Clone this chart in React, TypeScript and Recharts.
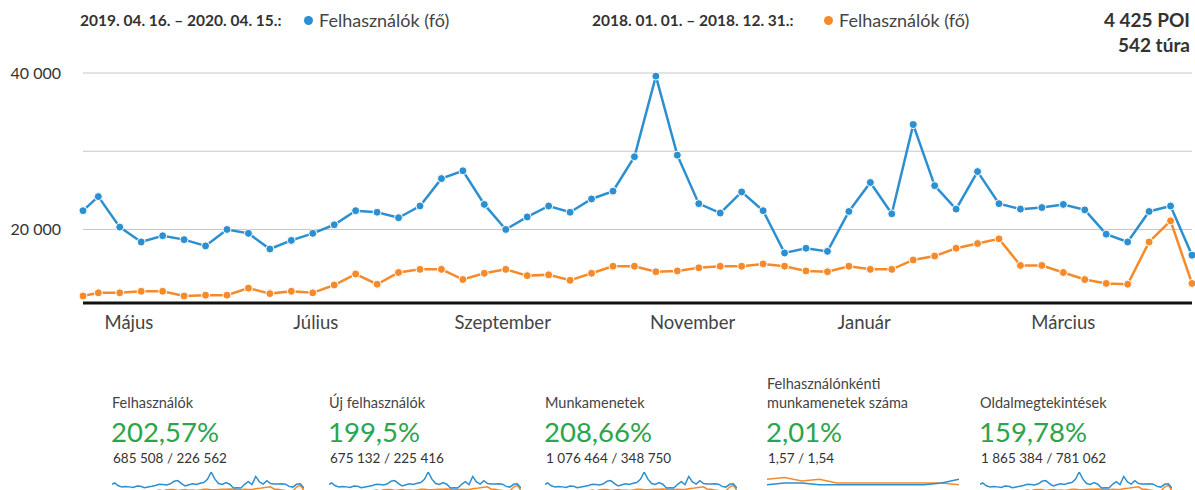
import { CartesianGrid, Line, LineChart, XAxis, YAxis } from 'recharts';

// week start dates (the first week is partial, it starts on a Tuesday)
const weekStarts = [
  '2019-04-16', '2019-04-21', '2019-04-28', '2019-05-05', '2019-05-12', '2019-05-19', '2019-05-26',
  '2019-06-02', '2019-06-09', '2019-06-16', '2019-06-23', '2019-06-30', '2019-07-07', '2019-07-14',
  '2019-07-21', '2019-07-28', '2019-08-04', '2019-08-11', '2019-08-18', '2019-08-25', '2019-09-01',
  '2019-09-08', '2019-09-15', '2019-09-22', '2019-09-29', '2019-10-06', '2019-10-13', '2019-10-20',
  '2019-10-27', '2019-11-03', '2019-11-10', '2019-11-17', '2019-11-24', '2019-12-01', '2019-12-08',
  '2019-12-15', '2019-12-22', '2019-12-29', '2020-01-05', '2020-01-12', '2020-01-19', '2020-01-26',
  '2020-02-02', '2020-02-09', '2020-02-16', '2020-02-23', '2020-03-01', '2020-03-08', '2020-03-15',
  '2020-03-22', '2020-03-29', '2020-04-05', '2020-04-12',
];

const usersCurrent = [
  22400, 24200, 20300, 18400, 19200, 18700, 17900, 20000, 19500, 17500,
  18600, 19500, 20600, 22400, 22200, 21500, 23000, 26500, 27500, 23200,
  20000, 21600, 23000, 22200, 23900, 24900, 29300, 39600, 29500, 23300,
  22100, 24800, 22400, 17000, 17600, 17200, 22300, 26000, 22000, 33400,
  25600, 22600, 27400, 23300, 22600, 22800, 23200, 22500, 19400, 18400,
  22300, 23000, 16700,
];

const usersPrevious = [
  11500, 11900, 11900, 12100, 12100, 11500, 11600, 11600, 12500, 11800,
  12100, 11900, 12900, 14300, 13000, 14500, 14900, 14900, 13600, 14400,
  14900, 14100, 14200, 13500, 14400, 15300, 15300, 14600, 14700, 15100,
  15300, 15300, 15600, 15300, 14700, 14600, 15300, 14900, 14900, 16100,
  16600, 17600, 18200, 18800, 15400, 15400, 14500, 13600, 13100, 13000,
  18400, 21100, 13100,
];

// x tick positions as dates and their labels
const monthTickDates = ['2019-05-01', '2019-07-01', '2019-08-31', '2019-11-01', '2019-12-27', '2020-03-01'];
const monthLabels = ['Május', 'Július', 'Szeptember', 'November', 'Január', 'Március'];

const yTicks = [20000, 30000, 40000];
const yLabelled = [20000, 40000];

// KPI boxes under the chart
const kpiTitles = ['Felhasználók', 'Új felhasználók', 'Munkamenetek', 'Felhasználónkénti\nmunkamenetek száma', 'Oldalmegtekintések'];
const kpiChanges = ['202,57%', '199,5%', '208,66%', '2,01%', '159,78%'];
const kpiTotals = ['685 508 / 226 562', '675 132 / 225 416', '1 076 464 / 348 750', '1,57 / 1,54', '1 865 384 / 781 062'];

// sessions per user sparkline (roughly)
const perUserCurrent = [1.49, 1.5, 1.5, 1.49, 1.49, 1.49, 1.49, 1.49, 1.49, 1.49, 1.5, 1.52];
const perUserPrevious = [1.52, 1.53, 1.51, 1.52, 1.5, 1.5, 1.5, 1.5, 1.5, 1.5, 1.5, 1.49];

const BLUE = '#2b8fd0';
const ORANGE = '#f58a2b';
const GREEN = '#2ba54b';
const FONT = 'Lato, "Open Sans", sans-serif';

const dayOf = (d: string) => (Date.parse(d) - Date.parse(weekStarts[0])) / 86400000;

const data = weekStarts.map((d, i) => ({
  day: dayOf(d),
  current: usersCurrent[i],
  previous: usersPrevious[i],
}));

const perUserData = perUserCurrent.map((v, i) => ({ i, current: v, previous: perUserPrevious[i] }));

const monthTicks = monthTickDates.map(dayOf);

const fmt = (v: number) => String(v).replace(/\B(?=(\d{3})+(?!\d))/g, ' ');

const kpiLeft = [112, 329, 545, 767, 980];

function Spark({ rows, xKey, domain }: { rows: any[]; xKey: string; domain: any }) {
  return (
    <LineChart width={192} height={20} data={rows} margin={{ top: 0, right: 0, left: 0, bottom: 0 }}>
      <XAxis dataKey={xKey} type="number" domain={['dataMin', 'dataMax']} hide />
      <YAxis domain={domain} hide />
      <Line type="linear" dataKey="previous" stroke={ORANGE} strokeWidth={1.5} dot={false} isAnimationActive={false} />
      <Line type="linear" dataKey="current" stroke={BLUE} strokeWidth={1.5} dot={false} isAnimationActive={false} />
    </LineChart>
  );
}

export default function App() {
  return (
    <div
      style={{
        position: 'absolute',
        left: 0,
        top: 0,
        width: 1195,
        height: 490,
        background: '#fff',
        fontFamily: FONT,
        overflow: 'hidden',
      }}
    >
      {/* header / legend */}
      <div style={{ position: 'absolute', top: 10, left: 80, fontSize: 15.5, fontWeight: 700, color: '#333', lineHeight: '20px' }}>
        2019. 04. 16. – 2020. 04. 15.:
      </div>
      <span style={{ position: 'absolute', top: 16, left: 304, width: 9, height: 9, borderRadius: '50%', background: BLUE }} />
      <div style={{ position: 'absolute', top: 10, left: 319, fontSize: 18, color: '#444', lineHeight: '20px' }}>
        Felhasználók (fő)
      </div>
      <div style={{ position: 'absolute', top: 10, left: 592, fontSize: 15.5, fontWeight: 700, color: '#333', lineHeight: '20px' }}>
        2018. 01. 01. – 2018. 12. 31.:
      </div>
      <span style={{ position: 'absolute', top: 16, left: 824, width: 9, height: 9, borderRadius: '50%', background: ORANGE }} />
      <div style={{ position: 'absolute', top: 10, left: 839, fontSize: 18, color: '#444', lineHeight: '20px' }}>
        Felhasználók (fő)
      </div>
      <div style={{ position: 'absolute', top: 7, right: 5, fontSize: 19, fontWeight: 700, color: '#333', lineHeight: '25px', textAlign: 'right' }}>
        <div>4 425 POI</div>
        <div>542 túra</div>
      </div>

      <div style={{ position: 'absolute', top: 0, left: 0 }}>
        <LineChart width={1195} height={345} data={data} margin={{ top: 73, right: 3, left: 0, bottom: 0 }}>
          <CartesianGrid vertical={false} stroke="#c6c6c6" />
          <XAxis
            dataKey="day"
            type="number"
            domain={[0, dayOf(weekStarts[weekStarts.length - 1])]}
            ticks={monthTicks}
            tickFormatter={(v) => monthLabels[monthTicks.indexOf(v)] ?? ''}
            axisLine={{ stroke: '#111', strokeWidth: 3 }}
            tickLine={false}
            tickSize={0}
            tickMargin={13}
            height={42}
            tick={{ fill: '#444', fontSize: 18.5, fontFamily: FONT }}
          />
          <YAxis
            type="number"
            domain={[10600, 40000]}
            ticks={yTicks}
            tickFormatter={(v) => (yLabelled.includes(v) ? fmt(v) : '')}
            axisLine={false}
            tickLine={false}
            tickSize={0}
            tickMargin={22}
            width={83}
            tick={{ fill: '#333', fontSize: 16, fontFamily: FONT }}
          />
          <Line
            type="linear"
            dataKey="previous"
            stroke={ORANGE}
            strokeWidth={2.5}
            dot={{ r: 4, fill: ORANGE, stroke: '#fff', strokeWidth: 1 }}
            activeDot={false}
            isAnimationActive={false}
          />
          <Line
            type="linear"
            dataKey="current"
            stroke={BLUE}
            strokeWidth={2.5}
            dot={{ r: 4, fill: BLUE, stroke: '#fff', strokeWidth: 1 }}
            activeDot={false}
            isAnimationActive={false}
          />
        </LineChart>
      </div>

      {/* KPI boxes */}
      {kpiTitles.map((title, k) => {
        const twoLines = title.includes('\n');
        return (
          <div key={title} style={{ position: 'absolute', left: kpiLeft[k], top: 0 }}>
            <div
              style={{
                position: 'absolute',
                top: twoLines ? 374 : 393,
                left: 0,
                whiteSpace: 'pre',
                fontSize: 14.5,
                lineHeight: '19px',
                color: '#444',
              }}
            >
              {title}
            </div>
            <div style={{ position: 'absolute', top: 415, left: -1, whiteSpace: 'nowrap', fontSize: 27.5, lineHeight: '34px', color: GREEN }}>
              {kpiChanges[k]}
            </div>
            <div style={{ position: 'absolute', top: 449, left: 1, whiteSpace: 'nowrap', fontSize: 13.5, lineHeight: '18px', color: '#333' }}>
              {kpiTotals[k]}
            </div>
            <div style={{ position: 'absolute', top: 472, left: 0 }}>
              {k === 3 ? (
                <Spark rows={perUserData} xKey="i" domain={[1.45, 1.56]} />
              ) : (
                <Spark rows={data} xKey="day" domain={['dataMin', 'dataMax']} />
              )}
            </div>
          </div>
        );
      })}
    </div>
  );
}
